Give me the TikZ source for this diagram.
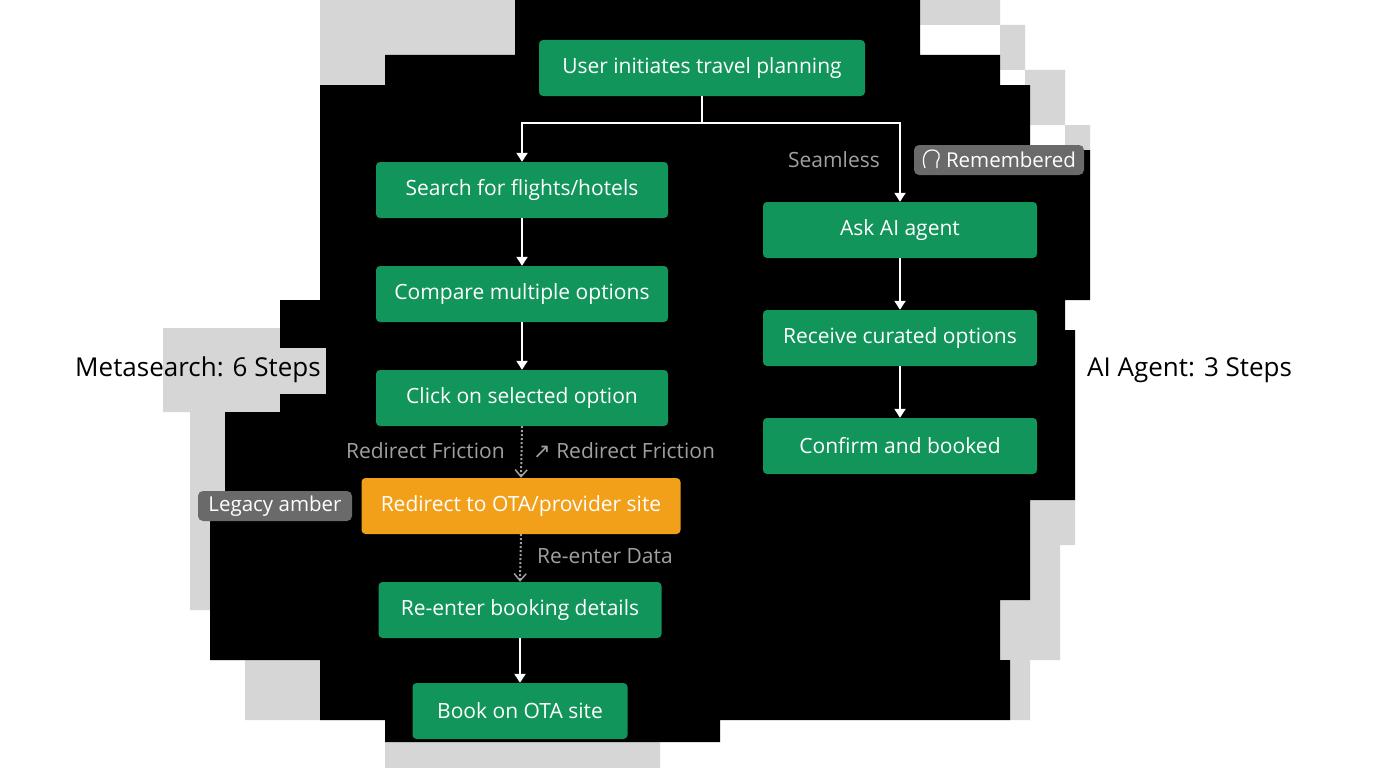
\documentclass[tikz,border=0pt]{standalone}
\usepackage{fontspec}
\setmainfont{Open Sans}
\newfontfamily\symf{DejaVu Sans}
\usetikzlibrary{arrows.meta}
\definecolor{gr}{HTML}{12955A}
\definecolor{am}{HTML}{F2A01A}
\definecolor{lg}{HTML}{D6D6D6}
\definecolor{tg}{HTML}{A0A0A0}
\definecolor{bg}{HTML}{6A6A6A}
\begin{document}
\begin{tikzpicture}[x=1pt,y=-1pt,
 box/.style={fill=gr,rounded corners=4pt,text=white,font=\fontsize{21}{23}\selectfont,minimum height=56pt,inner sep=0pt},
 arr/.style={white,line width=2pt,-{Triangle[length=9pt,width=11pt]}},
 dot/.style={tg,line width=2pt,dotted,-{Straight Barb[length=7pt,width=12pt,line width=1.5pt]}},
 lab/.style={text=tg,font=\fontsize{21}{23}\selectfont,inner sep=0pt},
 badge/.style={fill=bg,rounded corners=5pt,text=white,font=\fontsize{20.5}{22}\selectfont,inner sep=0pt,minimum height=30pt},
 side/.style={text=black,font=\fontsize{26}{28}\selectfont,inner sep=0pt}]
\useasboundingbox (0,0) rectangle (1376,768);
\fill[white] (0,0) rectangle (1376,768);
% gray steps
\fill[lg] (320,0) rectangle (515,55) (320,55) rectangle (385,150);
\fill[lg] (920,0) rectangle (1000,25) (1000,25) rectangle (1025,70) (1025,70) rectangle (1065,125) (1065,125) rectangle (1090,180);
\fill[lg] (163,328) rectangle (280,412) (190,412) rectangle (225,610) (210,610) rectangle (320,660) (245,660) rectangle (385,720) (385,720) rectangle (660,768);
\fill[lg] (1030,500) rectangle (1075,545) (1000,545) rectangle (1060,660) (1010,660) rectangle (1030,720);
% black blob
\fill[black] (515,0) rectangle (920,55) (385,55) rectangle (1000,85) (320,85) rectangle (1030,150)
 (320,150) rectangle (1090,300) (280,300) rectangle (1065,330) (280,330) rectangle (1075,412) (225,412) rectangle (1075,500)
 (210,500) rectangle (1030,600) (210,600) rectangle (1000,660) (320,660) rectangle (1010,720) (385,720) rectangle (720,742);
\fill[lg] (280,348) rectangle (326,394);
% nodes
\node[box,minimum width=326pt] (u) at (702,68) {User initiates travel planning};
\node[box,minimum width=292pt] (s) at (522,190) {Search for flights/hotels};
\node[box,minimum width=292pt] (c) at (522,294) {Compare multiple options};
\node[box,minimum width=292pt] (k) at (522,398) {Click on selected option};
\node[box,minimum width=319pt,fill=am] (r) at (521,506) {Redirect to OTA/provider site};
\node[box,minimum width=283pt] (e) at (520,610) {Re-enter booking details};
\node[box,minimum width=215pt] (b) at (520,711) {Book on OTA site};
\node[box,minimum width=274pt] (a) at (900,230) {Ask AI agent};
\node[box,minimum width=274pt] (v) at (900,338) {Receive curated options};
\node[box,minimum width=274pt] (f) at (900,446) {Confirm and booked};
\coordinate (j) at (702,123);
% connectors
\draw[white,line width=2pt] (u.south) -- (j);
\draw[arr] (j) -| (s.north);
\draw[arr] (j) -| (a.north);
\draw[arr] (s) -- (c);
\draw[arr] (c) -- (k);
\draw[dot] (k.south) -- (r.north);
\draw[dot] (r.south) -- (e.north);
\draw[arr] (e) -- (b);
\draw[arr] (a) -- (v);
\draw[arr] (v) -- (f);
% labels
\node[lab,anchor=east] (l1) at (505,451) {Redirect Friction};
\node[lab,anchor=west] (l2) at (533,451) {{\symf\fontsize{21}{23}\selectfont↗} Redirect Friction};
\node[lab,anchor=west] (l3) at (537,556) {Re-enter Data};
\node[lab] (l4) at (834,160) {Seamless};
\node[badge,minimum width=170pt] (bd1) at (999,160) {\hspace*{24pt}Remembered};
\draw[white,line width=1.2pt] (925,168) .. controls (921,158) and (925,150) .. (932,150) .. controls (940,150) and (941,157) .. (937,162) -- (937,168);
\node[badge,minimum width=154pt] (bd2) at (275,506) {Legacy amber};
\node[side,anchor=west] (m) at (75,370) {Metasearch: 6 Steps};
\node[side,anchor=west] (ag) at (1087,370) {AI Agent: 3 Steps};
\end{tikzpicture}
\end{document}
